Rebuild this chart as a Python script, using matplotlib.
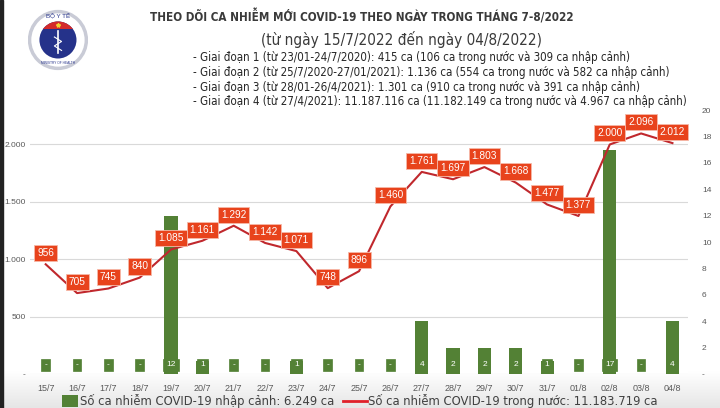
import numpy as np
import matplotlib
matplotlib.use("Agg")
import matplotlib.pyplot as plt
import matplotlib.transforms as mtransforms
from matplotlib.patches import Circle, Rectangle
from matplotlib.lines import Line2D

plt.rcParams['font.family'] = ['Liberation Sans', 'DejaVu Sans']
NARROW = ['DejaVu Sans']

days = ['15/7', '16/7', '17/7', '18/7', '19/7', '20/7', '21/7', '22/7', '23/7', '24/7',
        '25/7', '26/7', '27/7', '28/7', '29/7', '30/7', '31/7', '01/8', '02/8', '03/8', '04/8']
imported = [0, 0, 0, 0, 12, 1, 0, 0, 1, 0, 0, 0, 4, 2, 2, 2, 1, 0, 17, 0, 4]
domestic = [956, 705, 745, 840, 1085, 1161, 1292, 1142, 1071, 748, 896,
            1460, 1761, 1697, 1803, 1668, 1477, 1377, 2000, 2096, 2012]

title = "THEO DÕI CA NHIỄM MỚI COVID-19 THEO NGÀY TRONG THÁNG 7-8/2022"
subtitle = "(từ ngày 15/7/2022 đến ngày 04/8/2022)"
stages = [
    "- Giai đoạn 1 (từ 23/01-24/7/2020): 415 ca (106 ca trong nước và 309 ca nhập cảnh)",
    "- Giai đoạn 2 (từ 25/7/2020-27/01/2021): 1.136 ca (554 ca trong nước và 582 ca nhập cảnh)",
    "- Giai đoạn 3 (từ 28/01-26/4/2021): 1.301 ca (910 ca trong nước và 391 ca nhập cảnh)",
    "- Giai đoạn 4 (từ 27/4/2021): 11.187.116 ca (11.182.149 ca trong nước và 4.967 ca nhập cảnh)",
]
legend_bar = "Số ca nhiễm COVID-19 nhập cảnh: 6.249 ca"
legend_line = "Số ca nhiễm COVID-19 trong nước: 11.183.719 ca"

GREEN = '#538135'
RED_LINE = '#C0282D'
RED_BOX = '#E8431C'
GRAY = '#595959'


def vn(v):
    return f"{v:,}".replace(",", ".")


fig = plt.figure(figsize=(7.2, 4.08), dpi=100)

# light gray gradient at the bottom of the picture
bg = fig.add_axes([0, 0, 1, 1], zorder=-10)
bg.axis('off')
grad = np.linspace(0, 1, 100).reshape(-1, 1)
bg.imshow(grad, extent=[0, 1, 0, 0.09], aspect='auto', cmap=plt.cm.colors.LinearSegmentedColormap.from_list('g', ['#E6E6E6', '#FFFFFF']), origin='lower')
bg.set_xlim(0, 1)
bg.set_ylim(0, 1)
bg.add_patch(Rectangle((0, 0), 0.004, 1, color='#222222'))

# simple ministry logo
lg = fig.add_axes([0.039, 0.8235, 0.083, 0.157])
lg.set_xlim(-1, 1)
lg.set_ylim(-1.07, 1.07)
lg.set_aspect('equal')
lg.axis('off')
lg.add_patch(Circle((0, 0), 0.95, fc='white', ec='#C9CBD6', lw=2.5))
inner = Circle((0, 0), 0.62, fc='#25328A', ec='none')
lg.add_patch(inner)
cap = Rectangle((-1, 0.38), 2, 1, fc='#D42A2A', ec='none')
lg.add_patch(cap)
cap.set_clip_path(inner)
lg.plot([0], [0.5], marker='*', color='#F2D230', ms=3)
lg.plot([0, 0], [-0.45, 0.3], color='white', lw=1.2)
lg.plot([-0.12, 0.12, -0.12, 0.12], [0.1, -0.05, -0.2, -0.35], color='white', lw=0.8)
lg.text(0, 0.78, "BỘ Y TẾ", ha='center', va='center', fontsize=4.5, color='#25328A')
lg.text(0, -0.78, "MINISTRY OF HEALTH", ha='center', va='center', fontsize=2.3, color='#25328A')

fig.text(0.502, 0.958, title, ha='center', va='center', fontsize=8.4, fontweight='bold',
         color='#3A3A3A', family=NARROW, stretch='condensed')
fig.text(0.557, 0.902, subtitle, ha='center', va='center', fontsize=11,
         color='#3A3A3A', family=NARROW, stretch='condensed')
for k, s in enumerate(stages):
    fig.text(0.268, 0.858 - k * 0.036, s, ha='left', va='center', fontsize=8.3,
             color='#262626', family=NARROW, stretch='condensed')

ax1 = fig.add_axes([0.0417, 0.0833, 0.914, 0.647])
ax2 = ax1.twinx()
x = np.arange(len(days))

ax1.set_ylim(0, 20)
ax2.set_ylim(0, 2300)
ax1.set_xlim(-0.5, len(days) - 0.5)

# grid from the left (domestic) scale, drawn behind the bars
trans = mtransforms.blended_transform_factory(ax1.transAxes, ax2.transData)
for g in [0, 500, 1000, 1500, 2000]:
    ax1.add_line(Line2D([0, 1], [g, g], transform=trans, color='#D9D9D9', lw=0.8, zorder=0))

ax1.bar(x, imported, width=0.42, color=GREEN, zorder=2)
for i, v in enumerate(imported):
    ax1.annotate('-' if v == 0 else str(v), (i, 0), xytext=(0, 6.5), textcoords='offset points',
                 ha='center', va='center', fontsize=6, color='white', zorder=3,
                 bbox=dict(boxstyle='square,pad=0.35', fc=GREEN, ec=GREEN, lw=0.5))

ax2.plot(x, domestic, color=RED_LINE, lw=1.5, zorder=3)
for i, v in enumerate(domestic):
    ax2.annotate(vn(v), (i, v), xytext=(0, 8), textcoords='offset points',
                 ha='center', va='center', fontsize=7.3, color='white', zorder=4,
                 bbox=dict(boxstyle='square,pad=0.3', fc=RED_BOX, ec='#F6B9A8', lw=0.6))

ax1.yaxis.tick_right()
ax2.yaxis.tick_left()
ax1.set_yticks(range(0, 21, 2))
ax1.set_yticklabels(['-' if t == 0 else str(t) for t in range(0, 21, 2)])
ax2.set_yticks([0, 500, 1000, 1500, 2000])
ax2.set_yticklabels(['-'] + [vn(t) for t in [500, 1000, 1500, 2000]])
ax1.set_xticks(x)
ax1.set_xticklabels(days)

for a in (ax1, ax2):
    for sp in a.spines.values():
        sp.set_visible(False)
ax1.tick_params(axis='y', length=0, labelsize=6, labelcolor=GRAY, pad=10)
ax2.tick_params(axis='y', length=0, labelsize=6, labelcolor=GRAY, pad=3)
ax1.tick_params(axis='x', length=0, labelsize=6.5, labelcolor=GRAY, pad=7)

# legend along the bottom edge
fig.patches.append(Rectangle((0.086, 0.003), 0.022, 0.03, transform=fig.transFigure,
                             fc=GREEN, ec='none'))
fig.text(0.111, 0.017, legend_bar, ha='left', va='center', fontsize=9.3, color='#404040',
         family=NARROW, stretch='condensed')
fig.lines.append(Line2D([0.477, 0.51], [0.017, 0.017], transform=fig.transFigure, color='#E0202A', lw=2))
fig.text(0.511, 0.017, legend_line, ha='left', va='center', fontsize=9.3, color='#404040',
         family=NARROW, stretch='condensed')

fig.savefig('out.png', dpi=100)
